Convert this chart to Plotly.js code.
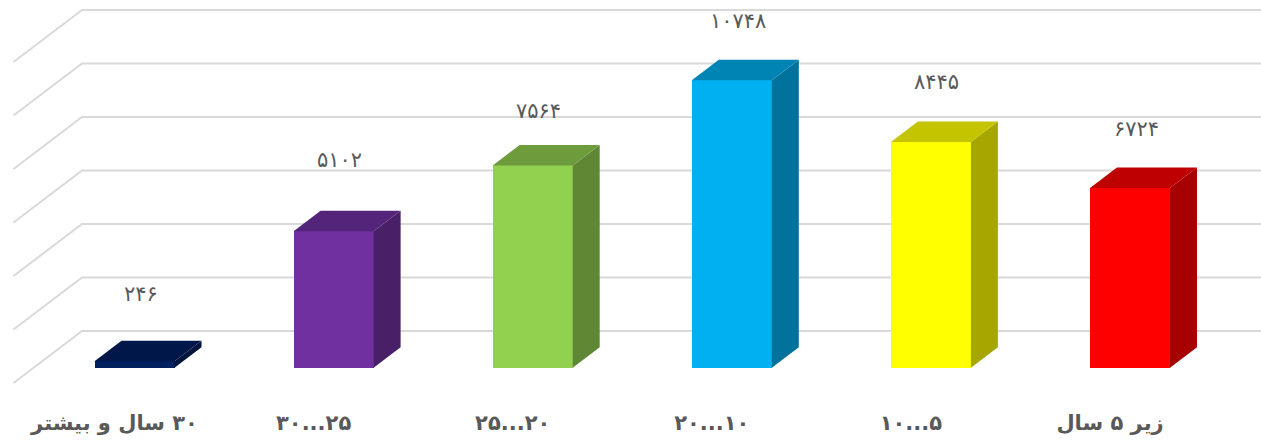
<!DOCTYPE html>
<html>
<head>
<meta charset="utf-8">
<script src="https://cdn.plot.ly/plotly-3.0.1.min.js"></script>
<style>
html,body{margin:0;padding:0;background:#fff}
.xtick text{direction:rtl}
.annotation text{letter-spacing:5px !important}
</style>
</head>
<body>
<div id="chart" style="width:1261px;height:441px"></div>
<script>
// Data, in the picture's left-to-right order
const categories = ["۳۰ سال و بیشتر", "۲۵...۳۰", "۲۰...۲۵", "۱۰...۲۰", "۵...۱۰", "زیر ۵ سال"];
const values = [246, 5102, 7564, 10748, 8445, 6724];
const gridValues = [0, 2000, 4000, 6000, 8000, 10000, 12000];
const frontColors = ["#002060", "#7030A0", "#92D050", "#00B0F0", "#FFFF00", "#FF0000"];
const topColors = ["#00174A", "#54247A", "#6E9C3C", "#0084B4", "#C4C400", "#BF0000"];
const sideColors = ["#00143D", "#491F68", "#5F8734", "#00729C", "#A6A600", "#A60000"];
const labelLift = [67, 71, 54, 59, 60, 59];

// Scales and the fake-3D projection
const W = 1261, H = 441, plotBottom = 400;
const pxPerUnit = 0.02675, zeroPx = 367.8;
const pxPerCat = 199.1, firstCenterPx = 134.5;
const xRange = [(0 - firstCenterPx) / pxPerCat, (W - firstCenterPx) / pxPerCat];
const yRange = [(zeroPx - plotBottom) * 1 / pxPerUnit, zeroPx / pxPerUnit];
const dx = px => px / pxPerCat, dy = px => px / pxPerUnit;
const barW = dx(80), depthX = dx(27), depthY = dy(20.5);
const idx = categories.map((_, i) => i);

const toPersian = n => String(n).replace(/\d/g, d => "۰۱۲۳۴۵۶۷۸۹"[+d]);

const traces = [{
  type: "bar", x: idx, y: values, width: barW,
  marker: {color: frontColors, line: {width: 0}},
  hoverinfo: "skip", showlegend: false
}];
idx.forEach(i => {
  const l = i - barW / 2, r = i + barW / 2, v = values[i];
  traces.push({
    type: "scatter", mode: "lines", fill: "toself", fillcolor: sideColors[i],
    line: {width: 0}, hoverinfo: "skip", showlegend: false,
    x: [r, r + depthX, r + depthX, r, r],
    y: [0, depthY, v + depthY, v, 0]
  });
  traces.push({
    type: "scatter", mode: "lines", fill: "toself", fillcolor: topColors[i],
    line: {width: 0}, hoverinfo: "skip", showlegend: false,
    x: [l, r, r + depthX, l + depthX, l],
    y: [v, v, v + depthY, v + depthY, v]
  });
});

// Gridlines: floor edge to back wall, then along the wall
const wallX = (82 - firstCenterPx) / pxPerCat, edgeX = (13.5 - firstCenterPx) / pxPerCat;
const wallUp = dy(zeroPx - 331), edgeDown = dy(52);
const shapes = gridValues.map(g => ({
  type: "path", xref: "x", yref: "y", layer: "below",
  path: `M${edgeX},${g + wallUp - edgeDown} L${wallX},${g + wallUp} L${xRange[1]},${g + wallUp}`,
  line: {color: "#D9D9D9", width: 2}
}));

const annotations = idx.map(i => ({
  x: i, y: values[i], xref: "x", yref: "y", text: toPersian(values[i]),
  showarrow: false, xshift: 6, yshift: labelLift[i], yanchor: "middle",
  font: {family: "DejaVu Sans", size: 21, color: "#595959"}
}));

const layout = {
  width: W, height: H, autosize: false,
  margin: {l: 0, r: 0, t: 0, b: H - plotBottom, pad: 0},
  paper_bgcolor: "#fff", plot_bgcolor: "#fff",
  showlegend: false, hovermode: false, bargap: 0,
  shapes, annotations,
  xaxis: {
    range: xRange, tickmode: "array",
    tickvals: idx.map(i => i - dx(20)), ticktext: categories,
    ticks: "outside", ticklen: 4, tickcolor: "rgba(0,0,0,0)",
    tickfont: {family: "DejaVu Sans", size: 21, color: "#595959", weight: 700},
    showgrid: false, zeroline: false, showline: false, fixedrange: true
  },
  yaxis: {
    range: yRange, showticklabels: false, ticks: "",
    showgrid: false, zeroline: false, showline: false, fixedrange: true
  }
};
Plotly.newPlot("chart", traces, layout, {displayModeBar: false, staticPlot: true});
</script>
</body>
</html>
